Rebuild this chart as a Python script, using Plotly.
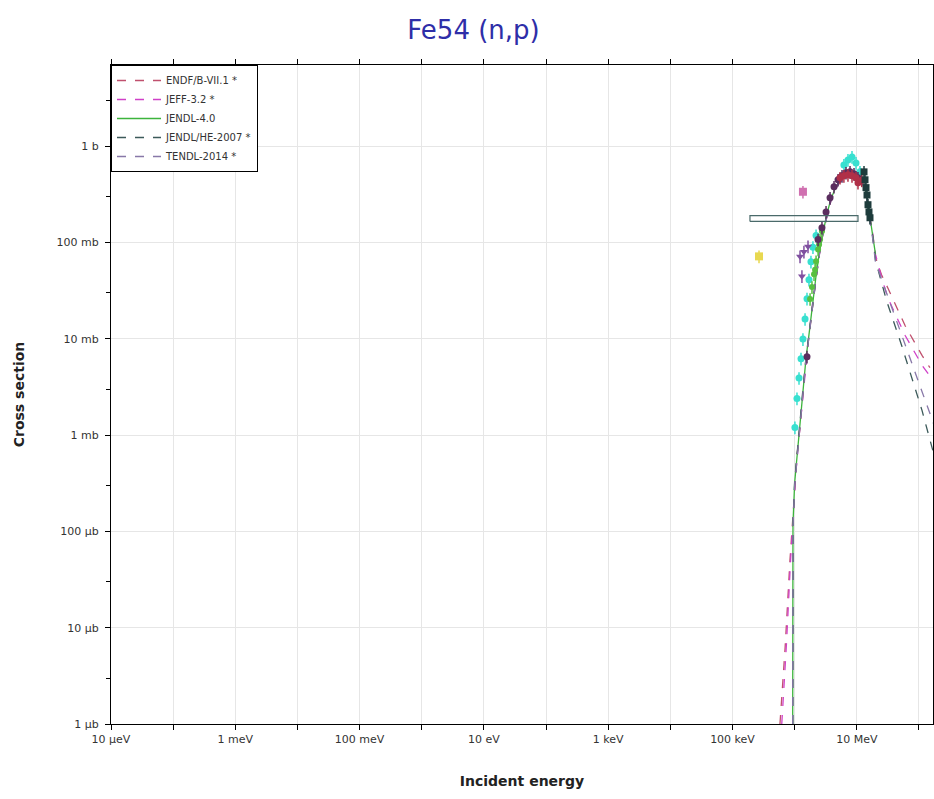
import plotly.graph_objects as go

# ---------------- data (energies in eV, cross sections in barns) ----------------
# Evaluated curves
endf_E = [5.8e5, 7.0e5, 8.4e5, 9.4e5, 1.01e6, 1.1e6, 1.22e6, 1.36e6, 1.52e6, 1.7e6, 1.9e6, 2.2e6, 2.5e6, 2.8e6,
          3.2e6, 3.7e6, 4.3e6, 5.0e6, 6.0e6, 7.0e6, 8.0e6, 9.0e6, 1.0e7, 1.1e7, 1.2e7, 1.3e7, 1.4e7, 1.5e7,
          1.6e7, 1.8e7, 2.0e7, 2.5e7, 3.2e7, 6.0e7, 1.12e8, 1.5e8]
endf_S = [1.0e-6, 6e-6, 5e-5, 1.6e-4, 3.5e-4, 6.5e-4, 1.2e-3, 2.8e-3, 6e-3, 1.05e-2, 2.0e-2, 4.2e-2, 7.5e-2, 0.115,
          0.17, 0.25, 0.33, 0.40, 0.46, 0.50, 0.52, 0.52, 0.50, 0.47, 0.43, 0.38, 0.32, 0.25,
          0.19, 0.12, 0.07, 0.046, 0.033, 0.0136, 0.0067, 0.0050]

jeff_E = [6.2e5, 7.4e5, 8.6e5, 9.6e5, 1.05e6, 1.2e6, 1.36e6, 1.52e6, 1.7e6, 1.9e6, 2.2e6, 2.5e6, 2.8e6, 3.2e6,
          3.7e6, 4.3e6, 5.0e6, 6.0e6, 7.0e6, 8.0e6, 9.0e6, 1.0e7, 1.1e7, 1.2e7, 1.3e7, 1.4e7, 1.5e7, 1.6e7,
          1.8e7, 2.0e7, 2.5e7, 3.2e7, 6.0e7, 1.12e8, 2.0e8]
jeff_S = [1.0e-6, 7e-6, 5e-5, 1.8e-4, 4.2e-4, 1.1e-3, 2.7e-3, 6e-3, 1.1e-2, 2.1e-2, 4.3e-2, 7.6e-2, 0.118, 0.175,
          0.255, 0.335, 0.41, 0.47, 0.51, 0.53, 0.53, 0.51, 0.48, 0.44, 0.39, 0.33, 0.26, 0.20,
          0.125, 0.075, 0.043, 0.026, 0.0108, 0.0053, 0.0032]

jendl4_E = [9.3e5, 9.4e5, 1.0e6, 1.1e6, 1.22e6, 1.36e6, 1.52e6, 1.7e6, 1.9e6, 2.2e6, 2.5e6, 2.8e6, 3.2e6, 3.7e6,
            4.3e6, 5.0e6, 6.0e6, 7.0e6, 8.0e6, 9.0e6, 1.0e7, 1.1e7, 1.2e7, 1.3e7, 1.4e7, 1.5e7, 1.6e7, 1.8e7, 2.0e7]
jendl4_S = [1.0e-6, 1.2e-4, 3.2e-4, 6.5e-4, 1.3e-3, 2.9e-3, 6.2e-3, 1.1e-2, 2.1e-2, 4.4e-2, 7.8e-2, 0.12, 0.18, 0.26,
            0.34, 0.41, 0.47, 0.51, 0.53, 0.53, 0.51, 0.48, 0.44, 0.39, 0.33, 0.26, 0.20, 0.125, 0.075]

jendlhe_E = [9.35e5, 9.45e5, 1.0e6, 1.1e6, 1.22e6, 1.36e6, 1.52e6, 1.7e6, 1.9e6, 2.2e6, 2.5e6, 2.8e6, 3.2e6, 3.7e6,
             4.3e6, 5.0e6, 6.0e6, 7.0e6, 8.0e6, 9.0e6, 1.0e7, 1.1e7, 1.2e7, 1.3e7, 1.4e7, 1.5e7, 1.6e7, 1.8e7,
             2.0e7, 3.0e7, 5.3e7, 1.12e8, 2.0e8]
jendlhe_S = [1.0e-6, 1.3e-4, 3.3e-4, 6.8e-4, 1.3e-3, 3.0e-3, 6.3e-3, 1.1e-2, 2.1e-2, 4.3e-2, 7.7e-2, 0.118, 0.178, 0.26,
             0.34, 0.41, 0.47, 0.51, 0.52, 0.52, 0.50, 0.47, 0.43, 0.38, 0.32, 0.25, 0.19, 0.115,
             0.065, 0.025, 0.0084, 0.0018, 0.00045]

tendl_E = [9.3e5, 9.4e5, 1.0e6, 1.1e6, 1.22e6, 1.36e6, 1.52e6, 1.7e6, 1.9e6, 2.2e6, 2.5e6, 2.8e6, 3.2e6, 3.7e6,
           4.3e6, 5.0e6, 6.0e6, 7.0e6, 8.0e6, 9.0e6, 1.0e7, 1.1e7, 1.2e7, 1.3e7, 1.4e7, 1.5e7, 1.6e7, 1.8e7,
           2.0e7, 3.0e7, 5.0e7, 1.0e8, 2.0e8]
tendl_S = [1.0e-6, 1.1e-4, 3.0e-4, 6.2e-4, 1.2e-3, 2.8e-3, 6.0e-3, 1.05e-2, 2.0e-2, 4.2e-2, 7.4e-2, 0.114, 0.17, 0.25,
           0.33, 0.40, 0.46, 0.50, 0.52, 0.52, 0.50, 0.47, 0.43, 0.38, 0.31, 0.24, 0.18, 0.11,
           0.062, 0.030, 0.012, 0.0035, 0.0010]

# Experimental data sets
cyan_E = [1.01e6, 1.09e6, 1.175e6, 1.265e6, 1.36e6, 1.47e6, 1.58e6, 1.70e6, 1.83e6, 1.97e6, 2.21e6,
          6.2e6, 7.21e6, 8.37e6, 9.71e6, 1.125e7]
cyan_S = [1.2e-3, 2.4e-3, 3.9e-3, 6.2e-3, 9.9e-3, 1.6e-2, 2.6e-2, 4.1e-2, 6.3e-2, 8.9e-2, 0.118,
          0.637, 0.717, 0.77, 0.668, 0.539]

green_E = [1.77e6, 1.90e6, 2.05e6, 2.13e6, 2.21e6, 2.38e6, 2.47e6, 2.56e6, 2.75e6]
green_S = [0.0258, 0.0343, 0.0467, 0.052, 0.0635, 0.0845, 0.095, 0.107, 0.13]

purple_E = [1.58e6, 2.38e6, 2.75e6, 3.2e6, 3.71e6, 4.3e6, 4.99e6, 5.78e6, 6.7e6, 7.78e6, 9.02e6, 1.045e7]
purple_S = [0.0065, 0.107, 0.142, 0.207, 0.29, 0.377, 0.446, 0.49, 0.527, 0.539, 0.514, 0.468]

red_E = [5.37e6, 6.2e6, 7.21e6, 8.37e6, 9.71e6, 1.045e7, 1.2e7]
red_S = [0.468, 0.49, 0.502, 0.49, 0.468, 0.415, 0.44]

dark_E = [1.306e7, 1.355e7, 1.406e7, 1.46e7, 1.514e7, 1.57e7, 1.63e7]
dark_S = [0.539, 0.446, 0.37, 0.31, 0.246, 0.207, 0.18]

pink_E = [1.36e6]
pink_S = [0.335]

violet_E = [1.22e6, 1.31e6, 1.41e6, 1.64e6]
violet_S = [0.0715, 0.0445, 0.080, 0.0908]

yellow_E = [2.67e5]
yellow_S = [0.0715]

# Wide-bin (spectrum averaged) measurement
bin_lo = 1.91e5
bin_hi = 1.045e7
bin_val = 0.177
bin_err = 0.012

# Axis ticks
x_tickvals = [1e-5, 1e-4, 1e-3, 1e-2, 1e-1, 1, 10, 100, 1e3, 1e4, 1e5, 1e6, 1e7, 1e8]
x_ticktext = ["10 µeV", "", "1 meV", "", "100 meV", "", "10 eV", "", "1 keV", "", "100 keV", "", "10 MeV", ""]
y_tickvals = [1e-6, 1e-5, 1e-4, 1e-3, 1e-2, 1e-1, 1]
y_ticktext = ["1 µb", "10 µb", "100 µb", "1 mb", "10 mb", "100 mb", "1 b"]
y_minor = [3e-6, 3e-5, 3e-4, 3e-3, 3e-2, 3e-1, 3]

# ---------------- figure ----------------
fig = go.Figure()

evals = [
    ("ENDF/B-VII.1 *", endf_E, endf_S, "#c0506e", "dash"),
    ("JEFF-3.2 *", jeff_E, jeff_S, "#d040c8", "dash"),
    ("JENDL-4.0", jendl4_E, jendl4_S, "#3cb43c", "solid"),
    ("JENDL/HE-2007 *", jendlhe_E, jendlhe_S, "#3c5a5a", "dash"),
    ("TENDL-2014 *", tendl_E, tendl_S, "#8878a8", "dash"),
]
for name, E, S, col, dash in evals:
    fig.add_trace(go.Scatter(x=E, y=S, mode="lines", name=name,
                             line=dict(color=col, width=1.3, dash=dash)))

exp_sets = [
    (cyan_E, cyan_S, "#38e0d0", "circle", 7),
    (green_E, green_S, "#58c040", "circle", 6),
    (purple_E, purple_S, "#5a2d5e", "circle", 7),
    (red_E, red_S, "#b03048", "circle", 7),
    (dark_E, dark_S, "#1e3c3c", "square", 7),
    (pink_E, pink_S, "#d070b0", "square", 8),
    (violet_E, violet_S, "#8050a0", "triangle-down", 7),
    (yellow_E, yellow_S, "#e8d850", "square", 8),
]
for E, S, col, sym, sz in exp_sets:
    fig.add_trace(go.Scatter(x=E, y=S, mode="markers", showlegend=False,
                             marker=dict(color=col, symbol=sym, size=sz,
                                         line=dict(color=col, width=0)),
                             error_y=dict(type="percent", value=15, color=col, thickness=1.5, width=0)))

# rectangle showing energy bin and uncertainty
fig.add_trace(go.Scatter(
    x=[bin_lo, bin_hi, bin_hi, bin_lo, bin_lo],
    y=[bin_val - bin_err, bin_val - bin_err, bin_val + bin_err, bin_val + bin_err, bin_val - bin_err],
    mode="lines", showlegend=False, line=dict(color="#4a6a6a", width=1.2)))

axis_common = dict(
    type="log", showline=True, linecolor="black", linewidth=1, mirror="ticks",
    ticks="outside", ticklen=5, tickcolor="black", automargin=False,
    showgrid=True, gridcolor="#e6e6e6", gridwidth=1, zeroline=False,
    tickfont=dict(family="DejaVu Sans", size=11, color="#333333"),
)

fig.update_layout(
    width=934, height=799,
    margin=dict(l=111, r=1, t=65, b=75),
    paper_bgcolor="white", plot_bgcolor="white",
    title=dict(text="Fe54 (n,p)", x=0.507, xref="container", xanchor="center",
               y=0.962, yref="container", yanchor="middle",
               font=dict(family="DejaVu Sans", size=26, color="#2e2ea8")),
    xaxis=dict(**axis_common, range=[-5, 8.226], tickvals=x_tickvals, ticktext=x_ticktext,
               title=dict(text="<b>Incident energy</b>", standoff=30,
                          font=dict(family="DejaVu Sans", size=14, color="#222222"))),
    yaxis=dict(**axis_common, range=[-6, 0.841], tickvals=y_tickvals, ticktext=y_ticktext,
               ticklabelstandoff=4,
               minor=dict(tickvals=y_minor, ticklen=4, tickcolor="black", showgrid=False, ticks="outside"),
               title=dict(text="<b>Cross section</b>", standoff=28,
                          font=dict(family="DejaVu Sans", size=14, color="#222222"))),
    legend=dict(x=0, y=1, xanchor="left", yanchor="top", bgcolor="white",
                bordercolor="black", borderwidth=1, itemwidth=44,
                font=dict(family="DejaVu Sans", size=10, color="#333333"),
                tracegroupgap=0),
    showlegend=True,
)

fig.write_html("out.html")
